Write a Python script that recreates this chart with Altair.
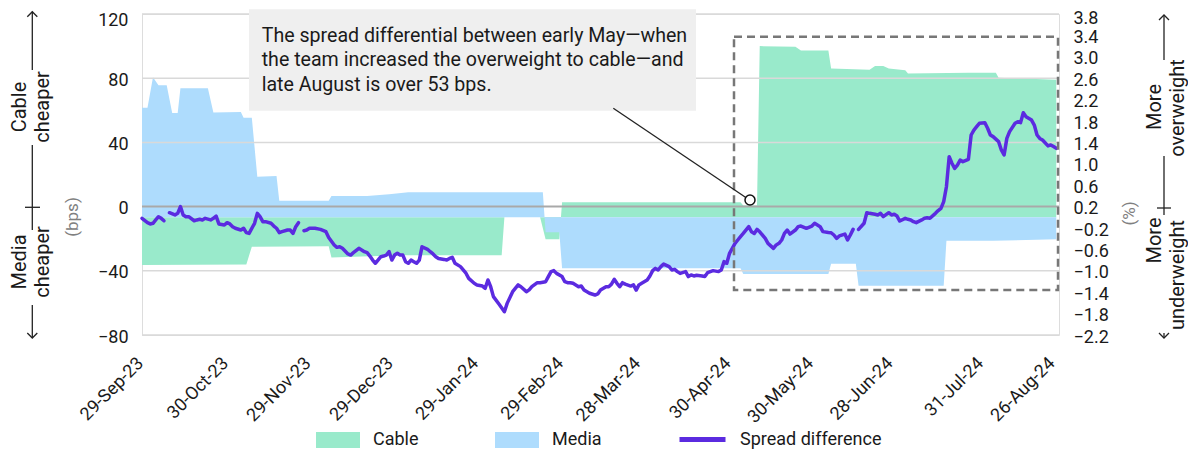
import altair as alt
import pandas as pd

# ---------------- data ----------------
line_dates = [
 "2023-09-29","2023-10-01","2023-10-02","2023-10-03","2023-10-04","2023-10-05","2023-10-06","2023-10-07","2023-10-08",
 "2023-10-09","2023-10-11","2023-10-12","2023-10-13","2023-10-14","2023-10-15","2023-10-16","2023-10-18","2023-10-19",
 "2023-10-20","2023-10-21","2023-10-22","2023-10-24","2023-10-25","2023-10-26","2023-10-27","2023-10-29","2023-10-30",
 "2023-10-31","2023-11-01","2023-11-02","2023-11-04","2023-11-05","2023-11-06","2023-11-07","2023-11-09","2023-11-10",
 "2023-11-11","2023-11-12","2023-11-13","2023-11-15","2023-11-16","2023-11-17","2023-11-18","2023-11-19","2023-11-21",
 "2023-11-22","2023-11-23","2023-11-24","2023-11-25","2023-11-26",
 "2023-11-27","2023-11-28","2023-11-29","2023-12-01","2023-12-03","2023-12-05","2023-12-06","2023-12-08","2023-12-09",
 "2023-12-10","2023-12-11","2023-12-13","2023-12-14","2023-12-15","2023-12-17","2023-12-18","2023-12-19","2023-12-20",
 "2023-12-21","2023-12-22","2023-12-23","2023-12-25","2023-12-26","2023-12-27","2023-12-28","2023-12-29","2023-12-30",
 "2023-12-31","2024-01-01","2024-01-02","2024-01-03","2024-01-04","2024-01-05","2024-01-06","2024-01-07","2024-01-08",
 "2024-01-09","2024-01-11","2024-01-12","2024-01-13","2024-01-14","2024-01-15","2024-01-17","2024-01-18","2024-01-19",
 "2024-01-20","2024-01-21","2024-01-23","2024-01-25","2024-01-26","2024-01-28","2024-01-29","2024-01-31","2024-02-01",
 "2024-02-02","2024-02-03","2024-02-04","2024-02-06","2024-02-08","2024-02-09","2024-02-11","2024-02-13","2024-02-14",
 "2024-02-16","2024-02-17","2024-02-18","2024-02-20","2024-02-21","2024-02-23","2024-02-24","2024-02-25","2024-02-26",
 "2024-02-27","2024-02-29","2024-03-01","2024-03-02","2024-03-03","2024-03-04","2024-03-06","2024-03-07","2024-03-08",
 "2024-03-10","2024-03-12","2024-03-13","2024-03-14","2024-03-16","2024-03-17","2024-03-18","2024-03-19","2024-03-20",
 "2024-03-21","2024-03-22","2024-03-23","2024-03-25","2024-03-26","2024-03-27","2024-03-28","2024-03-29","2024-03-31",
 "2024-04-01","2024-04-02","2024-04-03","2024-04-04","2024-04-05","2024-04-06","2024-04-08","2024-04-09","2024-04-10",
 "2024-04-11","2024-04-12","2024-04-14","2024-04-15","2024-04-16","2024-04-17","2024-04-18","2024-04-20","2024-04-21",
 "2024-04-22","2024-04-23","2024-04-24","2024-04-26","2024-04-27","2024-04-28","2024-04-29","2024-04-30","2024-05-02",
 "2024-05-03","2024-05-04","2024-05-05","2024-05-07","2024-05-08","2024-05-09","2024-05-10","2024-05-11","2024-05-13",
 "2024-05-14","2024-05-16","2024-05-17","2024-05-18","2024-05-19","2024-05-20","2024-05-21","2024-05-22","2024-05-24",
 "2024-05-25","2024-05-26","2024-05-28","2024-05-30","2024-05-31","2024-06-02","2024-06-03","2024-06-05","2024-06-06",
 "2024-06-07","2024-06-08","2024-06-09","2024-06-11","2024-06-12","2024-06-13","2024-06-14","2024-06-15",
 "2024-06-16","2024-06-18","2024-06-19","2024-06-20","2024-06-22","2024-06-23","2024-06-24","2024-06-25","2024-06-27",
 "2024-06-28","2024-06-29","2024-06-30","2024-07-01","2024-07-03","2024-07-04","2024-07-05","2024-07-06","2024-07-07",
 "2024-07-09","2024-07-10","2024-07-11","2024-07-12","2024-07-14","2024-07-15","2024-07-16","2024-07-17","2024-07-18",
 "2024-07-19","2024-07-20","2024-07-21","2024-07-22","2024-07-23","2024-07-24","2024-07-26","2024-07-27","2024-07-28",
 "2024-07-29","2024-07-30","2024-08-01","2024-08-02","2024-08-03","2024-08-04","2024-08-06","2024-08-07","2024-08-08",
 "2024-08-09","2024-08-10","2024-08-12","2024-08-13","2024-08-14","2024-08-15","2024-08-16","2024-08-18","2024-08-19",
 "2024-08-20","2024-08-21","2024-08-22","2024-08-24","2024-08-25","2024-08-26","2024-08-27",
]
line_bps = [
 -7.3,-10.0,-10.8,-10.4,-8.3,-6.3,-7.3,-8.8,None,
 -3.8,-5.2,-4.2,0.0,-5.2,-6.3,-6.3,-8.8,-8.3,
 -7.9,-8.3,-7.3,-8.3,-7.3,-5.9,-10.8,-11.5,-10.0,
 -10.8,-12.5,-13.5,-14.6,-13.5,-16.2,-16.7,-10.4,-4.2,
 -6.3,-9.4,-9.4,-10.4,-12.1,-13.5,-16.2,-15.6,-14.6,
 -14.6,-16.7,-12.5,-10.0,None,
 -15.0,-14.6,-13.5,-13.5,-14.2,-15.6,-19.2,-23.9,-25.4,
 -25.0,-26.0,-29.5,-30.2,-28.7,-26.0,-27.0,-28.1,-28.7,
 -30.8,-33.3,-35.3,-31.2,-30.8,-30.2,-28.1,-33.3,-30.2,
 -29.1,-30.2,-30.2,-34.3,-35.3,-33.3,-34.3,-35.3,-33.3,
 -25.0,-26.6,-28.1,-29.5,-31.2,-32.3,-32.9,-33.3,-32.3,
 -31.6,-35.3,-37.4,-41.5,-44.7,-47.8,-48.8,-49.5,-50.9,
 -45.7,-49.9,-56.1,-60.7,-65.5,-60.3,-53.0,-48.8,-49.9,
 -53.0,-51.9,-49.9,-47.4,-47.4,-46.8,-43.6,-40.5,-39.9,
 -41.6,-43.6,-46.8,-47.4,-47.4,-47.8,-49.9,-49.5,-52.0,
 -54.0,-55.1,-54.4,-52.0,-49.9,-49.9,-48.3,-45.3,-47.8,
 -49.9,-47.4,-48.3,-49.5,-48.8,-52.0,-48.8,-47.8,-45.7,
 -43.2,-39.9,-38.5,-39.5,-37.4,-35.8,-37.4,-39.5,-39.1,
 -40.5,-41.6,-40.5,-43.6,-42.6,-43.2,-42.8,-43.2,-43.6,
 -41.2,-40.5,-39.9,-40.5,-39.5,-34.3,-35.3,-29.1,-22.9,
 -20.8,-18.7,-16.7,-12.5,-15.7,-16.7,-14.2,-15.7,-19.8,
 -22.9,-26.0,-23.9,-22.9,-20.8,-16.7,-14.6,-17.1,-14.6,
 -12.5,-12.1,-13.5,-12.1,-10.4,-12.5,-15.6,-16.1,-16.3,
 -17.7,-19.8,-18.3,-17.1,-20.8,-17.7,-14.2,None,
 -14.2,-10.4,-3.8,-4.2,-4.8,-5.2,-4.2,-6.3,-3.8,
 -5.2,-4.8,-5.9,-9.0,-7.3,-7.9,-8.3,-9.4,-10.0,
 -8.3,-7.3,-6.9,-7.3,-4.2,-2.5,-1.1,3.1,12.4,
 31.1,27.0,23.8,25.9,29.0,28.0,29.4,44.6,47.7,
 49.8,51.9,52.3,48.8,44.6,43.6,40.5,35.3,32.2,
 42.5,46.7,51.9,52.9,52.3,58.5,56.0,53.9,50.8,
 44.6,42.5,41.5,37.8,38.4,37.4,36.3,
]

cable_dates = ["2023-09-29","2023-11-06","2023-11-08","2023-12-06","2023-12-07","2024-01-01","2024-02-07","2024-02-08",
               "2024-02-21","2024-02-23","2024-02-28","2024-02-29","2024-05-04","2024-05-05","2024-05-10","2024-05-11",
               "2024-05-24","2024-05-26","2024-06-05","2024-06-06","2024-06-20","2024-06-22","2024-06-25","2024-06-27",
               "2024-07-03","2024-07-04","2024-07-26","2024-08-05","2024-08-06","2024-08-27"]
cable_pct = [-0.89,-0.88,-0.55,-0.54,-0.75,-0.71,-0.71,0.0,
             0.0,-0.41,-0.41,0.28,0.28,0.22,0.22,3.20,
             3.19,3.12,3.12,2.78,2.76,2.83,2.83,2.78,
             2.75,2.69,2.70,2.70,2.61,2.57]

media_dates = ["2023-09-29","2023-10-01","2023-10-03","2023-10-05","2023-10-08","2023-10-10","2023-10-12","2023-10-13",
               "2023-10-23","2023-10-25","2023-11-04","2023-11-05","2023-11-08","2023-11-10","2023-11-17","2023-11-18",
               "2023-12-06","2023-12-07","2023-12-20","2023-12-28","2024-01-04","2024-02-22","2024-02-23","2024-02-28",
               "2024-02-29","2024-05-04","2024-05-05","2024-06-05","2024-06-06","2024-06-15","2024-06-16","2024-07-17",
               "2024-07-18","2024-08-04","2024-08-27"]
media_pct = [2.05,2.05,2.62,2.47,2.47,1.95,1.95,2.41,
             2.41,1.96,1.97,1.86,1.86,0.76,0.77,0.31,
             0.31,0.40,0.40,0.43,0.47,0.47,-0.28,-0.28,
             -0.95,-0.95,-1.06,-1.06,-0.87,-0.87,-1.28,-1.28,
             -0.44,-0.44,-0.41]

tick_dates = [(2023,9,29),(2023,10,30),(2023,11,29),(2023,12,29),(2024,1,29),(2024,2,29),
              (2024,3,28),(2024,4,30),(2024,5,30),(2024,6,28),(2024,7,31),(2024,8,26)]
left_ticks = [-80, -40, 0, 40, 80, 120]
right_ticks = [-2.2,-1.8,-1.4,-1.0,-0.6,-0.2,0.2,0.6,1.0,1.4,1.8,2.2,2.6,3.0,3.4,3.8]

GREEN = "#99eacb"
BLUE = "#aedcfd"
PURPLE = "#5b2be0"
TXT = "#1a1a1a"
FONT = "Roboto"

# ---------------- frames ----------------
line_df = pd.DataFrame({"date": pd.to_datetime(line_dates), "bps": line_bps})
line_df["seg"] = line_df["bps"].isna().cumsum()
line_df = line_df.dropna().reset_index(drop=True)
line_df["series"] = "Spread difference"

area_df = pd.concat([
    pd.DataFrame({"date": pd.to_datetime(cable_dates), "pct": cable_pct, "series": "Cable"}),
    pd.DataFrame({"date": pd.to_datetime(media_dates), "pct": media_pct, "series": "Media"}),
], ignore_index=True)

grid_df = pd.DataFrame({"bps": [v for v in left_ticks if v != 0]})
zero_df = pd.DataFrame({"bps": [0]})
dummy = pd.DataFrame({"k": [0]})

W, H = 917, 321
x_scale = alt.Scale(domain=[alt.DateTime(year=2023, month=9, date=29),
                            alt.DateTime(year=2024, month=8, date=28)])
x_axis = alt.Axis(values=[alt.DateTime(year=y, month=m, date=d) for (y, m, d) in tick_dates],
                  labelExpr="timeFormat(datum.value, '%d-%b-%y')",
                  labelAngle=-45, labelAlign="right", labelBaseline="top", labelPadding=19,
                  labelOffset=-8,
                  labelFontSize=18, labelColor=TXT, labelFont=FONT, labelFlush=False,
                  labelOverlap=False, domain=False, ticks=False, grid=False, title=None)

left_scale = alt.Scale(domain=[-80, 120], nice=False, zero=False)
left_axis = alt.Axis(values=left_ticks, orient="left", grid=False, domain=False, ticks=False,
                     labelFontSize=18, labelColor=TXT, labelFont=FONT, labelPadding=14, title=None,
                     labelOverlap=False,
                     labelOffset={"condition": {"test": "datum.value >= 119", "value": 6}, "value": 2})
right_axis = alt.Axis(values=right_ticks, orient="right", format=".1f", grid=False, domain=False,
                      ticks=False, labelFontSize=18, labelColor=TXT, labelFont=FONT, labelPadding=14,
                      title=None, labelOverlap=False,
                      labelOffset={"condition": {"test": "datum.value >= 3.7", "value": 4}, "value": 2})

areas = alt.Chart(area_df).mark_area(opacity=1, interpolate="linear").encode(
    x=alt.X("date:T", scale=x_scale, axis=x_axis),
    y=alt.Y("pct:Q", scale=alt.Scale(domain=[-2.2, 3.8], nice=False, zero=False), axis=right_axis, stack=None),
    y2=alt.datum(0),
    fill=alt.Fill("series:N", scale=alt.Scale(domain=["Cable", "Media"], range=[GREEN, BLUE]),
                  legend=alt.Legend(orient="none", legendX=174, legendY=404, direction="horizontal",
                                    title=None, symbolType="M-1,-0.364H1V0.364H-1Z", symbolSize=1936,
                                    symbolStrokeWidth=0, labelFontSize=18, labelFont=FONT,
                                    labelColor=TXT, labelOffset=13, columnPadding=76)),
)

grid_rules = alt.Chart(grid_df).mark_rule(color="#d9d9d9", strokeWidth=1.5).encode(
    y=alt.Y("bps:Q", scale=left_scale, axis=left_axis))
zero_rule = alt.Chart(zero_df).mark_rule(color="#a9a9a9", strokeWidth=2).encode(
    y=alt.Y("bps:Q", scale=left_scale, axis=left_axis))
line = alt.Chart(line_df).mark_line(strokeWidth=3.5, strokeJoin="round", strokeCap="round").encode(
    x=alt.X("date:T", scale=x_scale, axis=x_axis),
    y=alt.Y("bps:Q", scale=left_scale, axis=left_axis),
    detail="seg:N",
    stroke=alt.Stroke("series:N", scale=alt.Scale(domain=["Spread difference"], range=[PURPLE]),
                      legend=alt.Legend(orient="none", legendX=535, legendY=400, title=None,
                                        symbolType="stroke", symbolSize=2116, symbolStrokeWidth=5,
                                        labelFontSize=18, labelFont=FONT, labelColor=TXT, labelOffset=12)),
)
left_group = alt.layer(grid_rules, zero_rule, line)


def rule(x1, y1, x2, y2, color="#222222", width=1.3):
    return alt.Chart(dummy).mark_rule(color=color, strokeWidth=width).encode(
        x=alt.value(x1), y=alt.value(y1), x2=alt.value(x2), y2=alt.value(y2))


def text(t, x, y, size=18, angle=0, align="left", baseline="alphabetic", color=TXT):
    kw = dict(text=t, fontSize=size, font=FONT, color=color, align=align, baseline=baseline)
    if angle:
        kw["angle"] = angle
    return alt.Chart(dummy).mark_text(**kw).encode(x=alt.value(x), y=alt.value(y))


def head(x, y, up=True):
    shape = "M-1,1L0,0L1,1" if up else "M-1,-1L0,0L1,-1"
    return alt.Chart(dummy).mark_point(shape=shape, size=100, filled=False, color="#222222",
                                       strokeWidth=1.3, opacity=1).encode(x=alt.value(x), y=alt.value(y))


annot = []
# dashed highlight box
annot.append(alt.Chart(dummy).mark_rect(fill="white", fillOpacity=0, stroke="#777777", strokeWidth=2.5,
                                        strokeDash=[8, 5]).encode(
    x=alt.value(592), x2=alt.value(916), y=alt.value(22.7), y2=alt.value(276)))
# callout box and text
annot.append(alt.Chart(dummy).mark_rect(color="#efefef").encode(
    x=alt.value(107), x2=alt.value(554), y=alt.value(-4.7), y2=alt.value(96.7)))
note_lines = ["The spread differential between early May\u2014when",
              "the team increased the overweight to cable\u2014and",
              "late August is over 53 bps."]
for i, t in enumerate(note_lines):
    annot.append(text(t, 119.7, 27.7 + 24.5 * i, size=19.6))
annot.append(rule(471.3, 94.3, 604.2, 183.8, width=1.3))
annot.append(alt.Chart(dummy).mark_point(shape="circle", size=100, filled=True, fill="white",
                                         stroke="#111111", strokeWidth=1.5, opacity=1).encode(
    x=alt.value(608), y=alt.value(186)))

# axis titles
annot.append(text("(bps)", -69.5, 203, size=17, angle=270, align="center", baseline="middle", color="#808080"))
annot.append(text("(%)", 988, 199.5, size=17, angle=270, align="center", baseline="middle", color="#808080"))

# left side arrow
LX = -109.7
annot += [rule(LX, -2.3, LX, 56), rule(LX, 131, LX, 216), rule(LX, 291, LX, 324),
          rule(-117, 193.3, -102, 193.3), head(LX, -2.3, True), head(LX, 324, False)]
annot.append(text("Cable", -122.5, 93, size=20, angle=270, align="center", baseline="middle"))
annot.append(text("cheaper", -99, 93, size=20, angle=270, align="center", baseline="middle"))
annot.append(text("Media", -122.5, 248, size=20, angle=270, align="center", baseline="middle"))
annot.append(text("cheaper", -99, 248, size=20, angle=270, align="center", baseline="middle"))

# right side arrow
RX = 1022
annot += [rule(RX, 1, RX, 46), rule(RX, 142, RX, 201), rule(RX, 319, RX, 324),
          rule(RX - 7, 194, RX + 7, 194), head(RX, 1, True), head(RX, 324, False)]
annot.append(text("More", 1013, 93, size=20, angle=270, align="center", baseline="middle"))
annot.append(text("overweight", 1035.5, 94, size=20, angle=270, align="center", baseline="middle"))
annot.append(text("More", 1013, 226.5, size=20, angle=270, align="center", baseline="middle"))
annot.append(text("underweight", 1035.5, 261, size=20, angle=270, align="center", baseline="middle"))

chart = alt.layer(areas, left_group, *annot).resolve_scale(
    y="independent"
).properties(
    width=W, height=H,
    autosize=alt.AutoSizeParams(type="none"),
    padding={"left": 134, "top": 6, "right": 129, "bottom": 115},
).configure_view(stroke=None).configure(font=FONT)

chart.save("out.html", embed_options={"renderer": "svg", "actions": False})
